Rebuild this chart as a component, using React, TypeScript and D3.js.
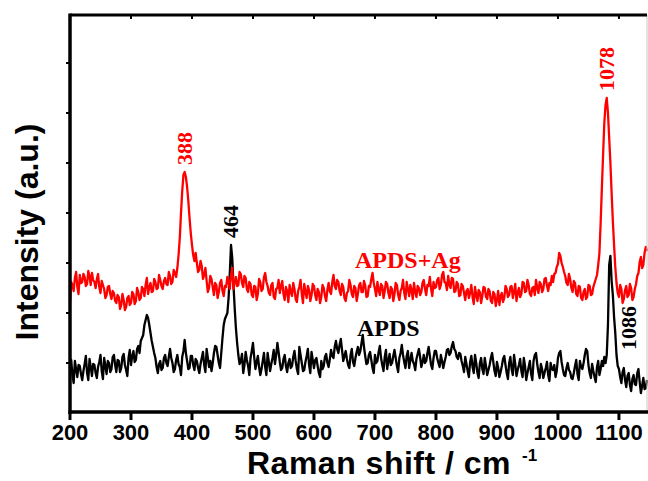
import React from 'react';
import * as d3 from 'd3';

// Raman shift grid (cm-1), 2 cm-1 spacing, 200 – 1146
const ramanShift: number[] = d3.range(474).map((i) => 200 + 2 * i);

// APDS+Ag (red) intensities, a.u.
const apdsAg: number[] = [
  110, 131, 128, 122, 135, 141, 126, 119, 138, 130, 131, 139, 136, 127, 129, 142, 137, 128, 140, 133,
  131, 125, 134, 139, 126, 120, 132, 128, 124, 115, 118, 126, 127, 119, 114, 122, 120, 112, 110, 118,
  116, 104, 108, 119, 113, 103, 106, 115, 117, 108, 110, 121, 119, 109, 112, 125, 121, 113, 115, 126,
  124, 117, 128, 135, 119, 126, 130, 121, 122, 134, 131, 124, 125, 138, 133, 127, 124, 132, 135, 129,
  128, 141, 137, 129, 131, 143, 140, 136, 145, 158, 175, 200, 222, 238, 241, 236, 226, 212, 195, 180,
  168, 158, 152, 160, 150, 141, 143, 152, 147, 134, 138, 145, 132, 121, 125, 137, 134, 126, 118, 130,
  128, 115, 121, 130, 133, 122, 117, 127, 126, 136, 131, 124, 138, 145, 124, 131, 136, 127, 128, 141,
  139, 130, 126, 137, 135, 124, 121, 131, 129, 118, 116, 127, 126, 113, 119, 134, 131, 122, 124, 136,
  140, 131, 127, 120, 118, 128, 130, 116, 114, 124, 125, 133, 120, 127, 132, 119, 113, 126, 122, 111,
  128, 121, 117, 130, 124, 114, 111, 122, 126, 133, 119, 110, 129, 121, 115, 127, 123, 112, 118, 129,
  127, 118, 113, 124, 121, 110, 116, 128, 125, 117, 112, 123, 130, 122, 119, 131, 138, 127, 124, 133,
  131, 122, 118, 129, 126, 115, 112, 120, 122, 133, 128, 119, 116, 127, 125, 112, 119, 128, 130, 121,
  121, 132, 128, 116, 117, 127, 126, 134, 140, 130, 124, 117, 131, 123, 118, 129, 127, 115, 122, 131,
  129, 120, 115, 126, 124, 112, 119, 130, 128, 118, 113, 122, 125, 133, 120, 114, 131, 124, 117, 128,
  123, 114, 130, 121, 116, 127, 125, 118, 121, 130, 133, 124, 118, 128, 127, 136, 124, 117, 131, 125,
  126, 133, 135, 124, 128, 138, 141, 131, 130, 123, 137, 128, 125, 135, 134, 121, 122, 131, 129, 117,
  118, 129, 127, 120, 113, 122, 124, 115, 120, 128, 116, 109, 126, 118, 112, 123, 121, 110, 117, 126,
  125, 116, 114, 124, 122, 112, 110, 121, 119, 107, 113, 122, 108, 117, 120, 111, 115, 127, 124, 116,
  118, 126, 127, 115, 121, 129, 112, 120, 125, 116, 119, 131, 130, 121, 122, 133, 128, 119, 117, 125,
  126, 118, 133, 125, 120, 131, 129, 121, 124, 134, 135, 127, 122, 130, 128, 137, 131, 139, 140, 146,
  149, 160, 157, 150, 146, 141, 137, 130, 128, 139, 134, 125, 121, 132, 130, 119, 117, 127, 126, 115,
  113, 121, 124, 114, 116, 128, 127, 118, 119, 126, 130, 134, 138, 148, 160, 190, 225, 258, 290, 308,
  315, 300, 275, 250, 220, 192, 168, 146, 130, 120, 116, 128, 124, 110, 114, 123, 127, 116, 118, 129,
  125, 113, 116, 124, 129, 137, 140, 151, 156, 145, 148, 160, 166, 162,
];

// APDS (black) intensities, a.u.
const apds: number[] = [
  45, 53, 38, 30, 52, 44, 36, 48, 47, 39, 33, 42, 49, 57, 40, 33, 54, 46, 37, 49,
  48, 40, 35, 46, 51, 58, 42, 34, 55, 47, 39, 52, 50, 41, 44, 56, 58, 48, 41, 53,
  52, 41, 45, 56, 59, 48, 43, 37, 55, 63, 48, 57, 62, 51, 53, 64, 67, 60, 72, 75,
  78, 88, 93, 98, 95, 88, 80, 72, 66, 60, 55, 46, 40, 49, 52, 43, 45, 55, 58, 50,
  47, 56, 64, 55, 50, 41, 44, 53, 58, 49, 46, 38, 56, 62, 73, 60, 52, 44, 45, 57,
  57, 48, 43, 54, 52, 45, 40, 49, 55, 61, 48, 41, 64, 55, 46, 52, 42, 50, 60, 67,
  66, 58, 50, 45, 60, 75, 88, 94, 97, 100, 115, 140, 168, 155, 128, 105, 85, 70, 58, 49,
  52, 59, 40, 48, 61, 53, 47, 38, 55, 62, 70, 56, 44, 51, 57, 46, 38, 44, 52, 60,
  46, 38, 60, 51, 42, 49, 55, 63, 49, 58, 70, 61, 51, 43, 45, 54, 58, 47, 41, 50,
  54, 45, 47, 56, 62, 52, 44, 39, 66, 58, 50, 42, 43, 51, 57, 64, 48, 40, 61, 53,
  45, 53, 55, 47, 40, 36, 52, 44, 47, 56, 59, 50, 46, 54, 63, 57, 55, 66, 72, 64,
  60, 68, 74, 63, 52, 57, 62, 54, 48, 45, 58, 64, 51, 47, 55, 61, 66, 58, 62, 70,
  78, 66, 57, 49, 50, 58, 61, 53, 45, 40, 58, 50, 52, 61, 67, 55, 48, 42, 56, 63,
  44, 52, 59, 48, 50, 57, 63, 55, 47, 41, 55, 60, 68, 58, 51, 45, 57, 62, 45, 53,
  60, 52, 49, 43, 54, 59, 64, 56, 46, 51, 58, 50, 52, 60, 66, 57, 48, 44, 55, 62,
  62, 55, 50, 46, 58, 52, 45, 51, 56, 63, 64, 58, 60, 67, 71, 64, 62, 56, 54, 60,
  59, 52, 47, 41, 56, 49, 42, 36, 51, 57, 46, 40, 58, 50, 40, 35, 50, 55, 44, 39,
  55, 47, 38, 43, 48, 55, 60, 51, 42, 37, 51, 45, 36, 41, 47, 54, 57, 48, 40, 34,
  50, 56, 44, 38, 58, 49, 37, 43, 48, 54, 42, 36, 55, 47, 33, 40, 46, 52, 39, 33,
  52, 58, 60, 49, 41, 35, 49, 44, 35, 40, 45, 51, 38, 32, 50, 44, 43, 48, 36, 42,
  55, 60, 62, 51, 44, 38, 37, 45, 50, 43, 41, 35, 34, 40, 47, 53, 39, 33, 52, 46,
  44, 50, 58, 64, 62, 48, 40, 35, 49, 42, 36, 31, 46, 52, 38, 44, 52, 47, 56, 50,
  58, 88, 148, 157, 132, 118, 96, 80, 58, 47, 44, 36, 30, 41, 45, 33, 26, 37, 40, 28,
  22, 34, 38, 29, 28, 40, 44, 31, 20, 27, 35, 24, 25, 33,
];

const xTicks: number[] = [200, 300, 400, 500, 600, 700, 800, 900, 1000, 1100];
const yTicks: number[] = [50, 100, 150, 200, 250, 300, 350];

const redLabels = ['388', '1078'];
const redPeaks = [388, 1080];
const blackLabels = ['464', '1086'];
const blackPeaks = [464, 1086];

const RED = '#ff0000';
const SERIF = "'Liberation Serif', 'Times New Roman', serif";
const SANS = "'Liberation Sans', Arial, sans-serif";

export default function App() {
  const W = 648;
  const H = 481;
  const left = 70;
  const right = 647;
  const top = 15;
  const bottom = 412;

  const x = d3.scaleLinear().domain([200, 1146]).range([left, right]);
  const y = d3.scaleLinear().domain([0, 400]).range([413, 13]);

  const line = (vals: number[]) =>
    d3
      .line<number>()
      .x((_, i) => x(ramanShift[i]))
      .y((d) => y(d))(vals) as string;

  const valAt = (vals: number[], xv: number) => vals[ramanShift.indexOf(xv)];

  return (
    <svg width={W} height={H} style={{ display: 'block', position: 'absolute', left: 0, top: 0 }}>
      <rect x={0} y={0} width={W} height={H} fill="#fff" />
      {/* series */}
      <path d={line(apds)} fill="none" stroke="#000" strokeWidth={2.3} strokeLinejoin="round" />
      <path d={line(apdsAg)} fill="none" stroke={RED} strokeWidth={2.3} strokeLinejoin="round" />

      {/* frame */}
      <line x1={right} x2={right} y1={top} y2={bottom} stroke="#c8c8c8" strokeWidth={1} />
      <line x1={left} x2={right} y1={top} y2={top} stroke="#000" strokeWidth={3} />
      <line x1={left} x2={left} y1={top - 1.5} y2={bottom + 2} stroke="#000" strokeWidth={3.5} />
      <line x1={left - 1.5} x2={W} y1={bottom} y2={bottom} stroke="#000" strokeWidth={3.5} />

      {xTicks.map((t) => (
        <g key={t}>
          <line x1={x(t)} x2={x(t)} y1={bottom} y2={bottom + 8} stroke="#000" strokeWidth={3} />
          <line x1={x(t)} x2={x(t)} y1={top} y2={top + 4} stroke="#000" strokeWidth={2} />
          <text
            x={x(t)}
            y={bottom + 28}
            textAnchor="middle"
            fontFamily={SANS}
            fontWeight="bold"
            fontSize={22}
            fill="#000"
          >
            {t}
          </text>
        </g>
      ))}
      {yTicks.map((t) => (
        <line key={t} x1={left - 4} x2={left} y1={y(t)} y2={y(t)} stroke="#000" strokeWidth={2} />
      ))}

      {/* axis titles */}
      <text
        x={247}
        y={474}
        fontFamily={SANS}
        fontWeight="bold"
        fontSize={32}
        letterSpacing={0.5}
        fill="#000"
      >
        Raman shift / cm
      </text>
      <text x={522} y={461} fontFamily={SANS} fontWeight="bold" fontSize={17} fill="#000">
        -1
      </text>
      <text
        transform={`translate(38,232) rotate(-90)`}
        textAnchor="middle"
        fontFamily={SANS}
        fontWeight="bold"
        fontSize={32}
        fill="#000"
      >
        Intensity (a.u.)
      </text>

      {/* peak labels */}
      {redLabels.map((lab, i) => (
        <text
          key={lab}
          transform={`translate(${x(redPeaks[i]) + 7},${y(valAt(apdsAg, redPeaks[i])) - 7}) rotate(-90)`}
          fontFamily={SERIF}
          fontWeight="bold"
          fontSize={22}
          fill={RED}
        >
          {lab}
        </text>
      ))}
      <text
        transform={`translate(${x(blackPeaks[0]) + 7},${y(valAt(apds, blackPeaks[0])) - 7}) rotate(-90)`}
        fontFamily={SERIF}
        fontWeight="bold"
        fontSize={22}
        fill="#000"
      >
        {blackLabels[0]}
      </text>
      <text
        transform={`translate(${x(blackPeaks[1]) + 26},${y(63)}) rotate(-90)`}
        fontFamily={SERIF}
        fontWeight="bold"
        fontSize={22}
        fill="#000"
      >
        {blackLabels[1]}
      </text>

      {/* series names */}
      <text x={355} y={268} fontFamily={SERIF} fontWeight="bold" fontSize={24} fill={RED}>
        APDS+Ag
      </text>
      <text x={357} y={336} fontFamily={SERIF} fontWeight="bold" fontSize={24} fill="#000">
        APDS
      </text>
    </svg>
  );
}
